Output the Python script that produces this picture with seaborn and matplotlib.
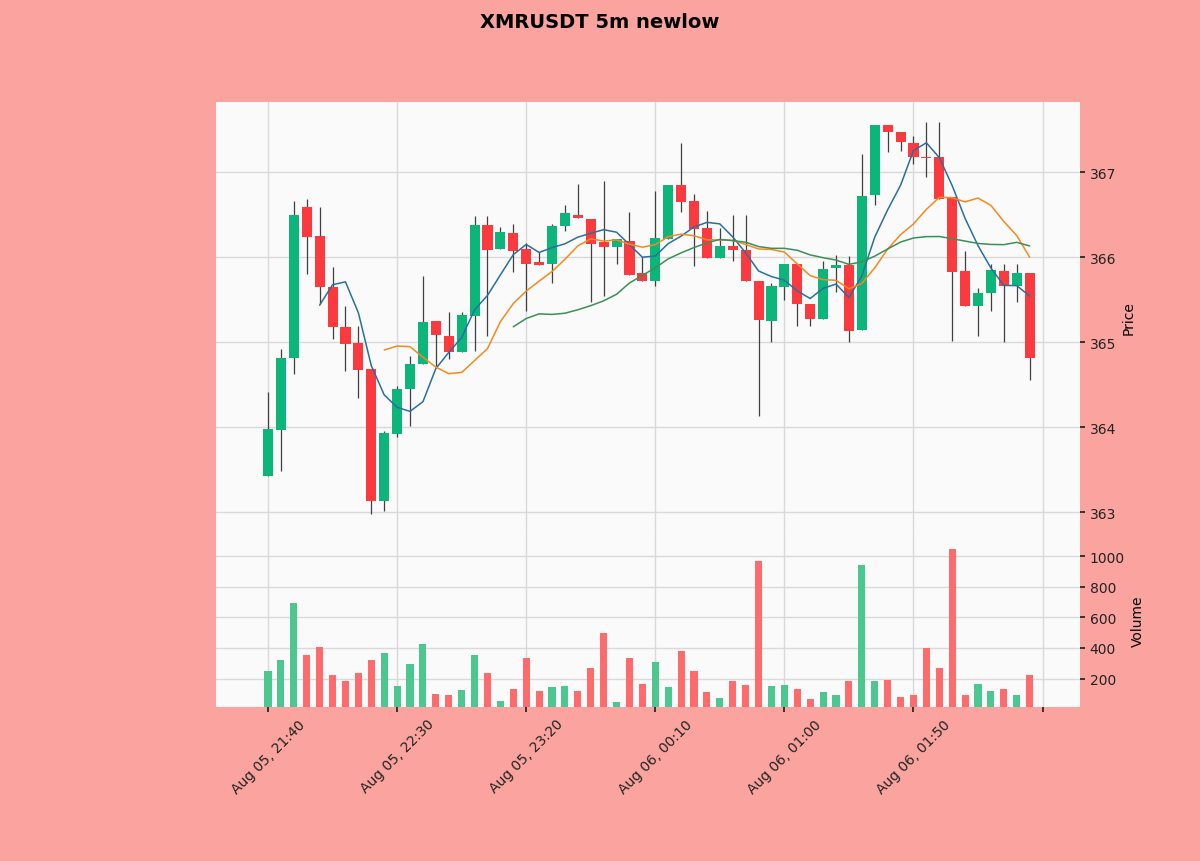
import numpy as np
import pandas as pd
import matplotlib
matplotlib.use("Agg")
import matplotlib.pyplot as plt
import seaborn as sns

# 5m candles, XMRUSDT
opens = [363.42, 363.96, 364.81, 366.59, 366.25, 365.65, 365.18, 364.99, 364.68, 363.13,
         363.92, 364.45, 364.74, 365.25, 365.07, 364.88, 365.31, 366.38, 366.09, 366.28,
         366.09, 365.94, 365.92, 366.36, 366.49, 366.45, 366.18, 366.12, 366.19, 365.81,
         365.72, 366.21, 366.85, 366.66, 366.34, 365.99, 366.13, 366.08, 365.72, 365.25,
         365.65, 365.92, 365.45, 365.27, 365.87, 365.91, 365.14, 366.73, 367.55, 367.47,
         367.34, 367.18, 367.18, 366.71, 365.84, 365.42, 365.58, 365.84, 365.66, 365.81]
highs = [364.41, 364.92, 366.66, 366.68, 366.59, 365.88, 365.42, 365.19, 364.68, 363.95,
         364.48, 364.83, 365.78, 365.25, 365.35, 365.35, 366.48, 366.48, 366.35, 366.39,
         366.16, 366.06, 366.39, 366.61, 366.86, 366.45, 366.89, 366.21, 366.53, 366.00,
         366.78, 366.85, 367.34, 366.74, 366.54, 366.34, 366.49, 366.49, 365.72, 365.70,
         365.92, 365.92, 365.45, 365.95, 366.02, 366.01, 367.21, 367.55, 367.55, 367.47,
         367.42, 367.59, 367.59, 366.71, 366.07, 365.63, 365.92, 365.92, 365.92, 365.81]
lows = [363.42, 363.48, 364.62, 365.80, 365.45, 365.04, 364.66, 364.34, 362.98, 363.01,
        363.88, 364.01, 364.74, 364.72, 364.80, 364.88, 364.89, 365.07, 366.09, 365.82,
        365.36, 365.91, 365.70, 366.31, 366.46, 365.47, 365.54, 365.92, 365.79, 365.72,
        365.66, 366.21, 366.53, 365.89, 365.99, 365.99, 365.95, 365.72, 364.13, 365.00,
        365.50, 365.19, 365.19, 365.27, 365.59, 365.00, 365.14, 366.61, 367.24, 367.25,
        367.09, 366.94, 366.68, 365.01, 365.42, 365.07, 365.36, 365.00, 365.47, 364.55]
closes = [363.98, 364.81, 366.49, 366.24, 365.65, 365.18, 364.98, 364.67, 363.13, 363.93,
          364.45, 364.74, 365.24, 365.08, 364.88, 365.32, 366.38, 366.08, 366.29, 366.07,
          365.92, 365.91, 366.36, 366.52, 366.46, 366.15, 366.12, 366.21, 365.79, 365.72,
          366.22, 366.85, 366.65, 366.33, 365.99, 366.13, 366.08, 365.72, 365.26, 365.66,
          365.92, 365.45, 365.27, 365.86, 365.91, 365.13, 366.72, 367.55, 367.47, 367.35,
          367.18, 367.17, 366.68, 365.82, 365.42, 365.58, 365.85, 365.66, 365.81, 364.81]
volumes = [252, 318, 692, 351, 405, 226, 182, 237, 318, 368,
           150, 292, 428, 102, 95, 128, 357, 237, 56, 134,
           336, 117, 143, 150, 117, 266, 500, 48, 336, 165,
           307, 143, 379, 248, 110, 73, 182, 156, 969, 154,
           156, 134, 69, 113, 91, 187, 941, 187, 193, 77,
           91, 401, 270, 1046, 95, 165, 121, 134, 91, 226]
mav_periods = [5, 10, 20]
mav_colors = ["#2b6f9c", "#f5891f", "#3b8f57"]

times = pd.date_range("2025-08-05 21:40", periods=len(opens), freq="5min")
df = pd.DataFrame({"time": times, "open": opens, "high": highs, "low": lows,
                   "close": closes, "volume": volumes})
df["idx"] = np.arange(len(df))
for n in mav_periods:
    df[f"ma{n}"] = df["close"].rolling(n).mean()
up = df["close"] >= df["open"]

sns.set_theme(style="whitegrid", rc={
    "axes.facecolor": "#fafafa",
    "grid.color": "#d9d9d9",
    "grid.linewidth": 1.0,
    "axes.edgecolor": "#f0f0f0",
    "xtick.major.size": 3.5,
    "ytick.major.size": 3.5,
    "xtick.bottom": True,
    "ytick.right": True,
    "xtick.color": "#222222",
    "ytick.color": "#222222",
})
plt.rcParams["font.family"] = ["DejaVu Sans"]

fig = plt.figure(figsize=(12, 8.62), dpi=100, facecolor="#fba49f")
ax = fig.add_axes([0.18, 0.3805, 0.72, 0.5000])
axv = fig.add_axes([0.18, 0.1787, 0.72, 0.2018], sharex=ax)

up_col, down_col = "#0cb57a", "#fb3a40"
vol_up, vol_down = "#4dc790", "#fd6b6c"

# wicks then bodies
ax.vlines(df["idx"], df["low"], df["high"], color="#404040", lw=0.9, zorder=2)
body = (df["close"] - df["open"]).abs().clip(lower=0.012)
ax.bar(df["idx"], body, bottom=df[["open", "close"]].min(axis=1), width=0.78,
       color=np.where(up, up_col, down_col), zorder=3, linewidth=0)

for n, c in zip(mav_periods, mav_colors):
    sns.lineplot(data=df, x="idx", y=f"ma{n}", ax=ax, color=c, lw=1.1, zorder=4)

axv.bar(df["idx"], df["volume"], width=0.55,
        color=np.where(up, vol_up, vol_down), linewidth=0, zorder=3)

ax.set_xlim(-4.03, 62.9)
ax.set_ylim(362.753, 367.824)
axv.set_ylim(0.3 * min(volumes), 1.1 * max(volumes))

for a in (ax, axv):
    a.yaxis.tick_right()
    a.yaxis.set_label_position("right")
    a.tick_params(axis="y", left=False, right=True, labelsize=10)
    a.set_xlabel("")
    for s in a.spines.values():
        s.set_visible(False)

ax.set_yticks([363, 364, 365, 366, 367])
ax.set_ylabel("Price", fontsize=10, color="black")
axv.set_yticks([200, 400, 600, 800, 1000])
axv.set_ylabel("Volume", fontsize=10, color="black")

tick_pos = list(range(0, 61, 10))
tick_lab = [times[i].strftime("%b %d, %H:%M") if i < len(times) else "" for i in tick_pos]
axv.set_xticks(tick_pos)
axv.set_xticklabels(tick_lab, rotation=45, ha="center", fontsize=10)
plt.setp(ax.get_xticklabels(), visible=False)
ax.tick_params(axis="x", bottom=False)

fig.suptitle("XMRUSDT 5m newlow", fontsize=14, fontweight="bold", color="black", y=0.985)

fig.savefig("out.png", dpi=100, facecolor=fig.get_facecolor())
